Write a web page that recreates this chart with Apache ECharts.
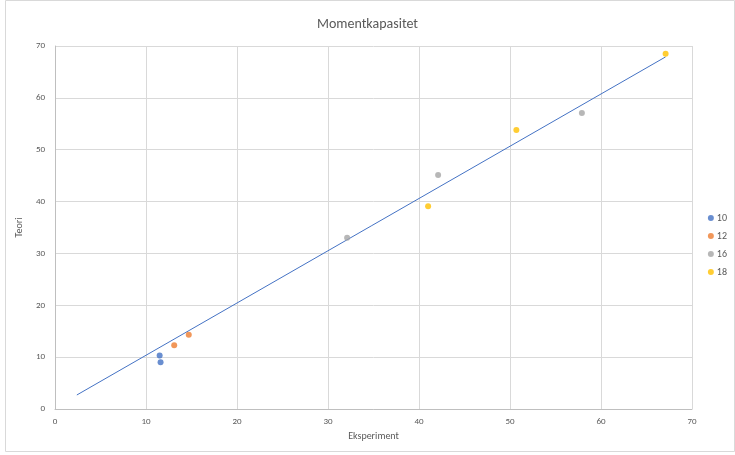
<!DOCTYPE html>
<html><head><meta charset="utf-8">
<script src="https://cdn.jsdelivr.net/npm/echarts@6/dist/echarts.min.js"></script>
<style>html,body{margin:0;padding:0;background:#fff}#c{width:735px;height:455px}</style>
</head><body><div id="c"></div>
<script>
const seriesNames = ['10', '12', '16', '18'];
const colors = ['#4472C4', '#ED7D31', '#A5A5A5', '#FFC000'];
const s10 = [[11.5, 10.3], [11.6, 9.0]];
const s12 = [[13.1, 12.3], [14.7, 14.3]];
const s16 = [[32.1, 33.0], [42.1, 45.1], [57.9, 57.1]];
const s18 = [[41.0, 39.1], [50.7, 53.8], [67.1, 68.5]];
const trend = [[2.4, 2.7], [67.1, 67.9]];
const xTicks = [0, 10, 20, 30, 40, 50, 60, 70];
const yTicks = [0, 10, 20, 30, 40, 50, 60, 70];

const all = [s10, s12, s16, s18];
const chart = echarts.init(document.getElementById('c'));
const font = 'Calibri, Carlito, "Open Sans", sans-serif';
chart.setOption({
  animation: false,
  textStyle: { fontFamily: font },
  title: { text: 'Momentkapasitet', left: 'center', top: 12,
    textStyle: { fontSize: 14, fontWeight: 'normal', color: '#595959', fontFamily: font } },
  graphic: [{ type: 'rect', shape: { x: 5.5, y: 0.5, width: 729, height: 451 },
    style: { fill: 'none', stroke: '#d9d9d9', lineWidth: 1 } }],
  legend: { orient: 'vertical', right: 3, top: 208, itemGap: 8, itemWidth: 6, itemHeight: 6,
    data: seriesNames.map(n => ({ name: n, icon: 'circle' })),
    textStyle: { fontSize: 10, color: '#595959', padding: [0, 0, 0, -2] } },
  grid: { left: 55, right: 43, top: 46, bottom: 46 },
  xAxis: { type: 'value', min: xTicks[0], max: xTicks[xTicks.length - 1], interval: 10,
    name: 'Eksperiment', nameLocation: 'middle', nameGap: 22,
    nameTextStyle: { fontSize: 10, color: '#595959' },
    axisLine: { show: true, lineStyle: { color: '#bfbfbf' } }, axisTick: { show: false },
    axisLabel: { fontSize: 9, color: '#595959', margin: 8 },
    splitLine: { lineStyle: { color: '#d9d9d9' } } },
  yAxis: { type: 'value', min: yTicks[0], max: yTicks[yTicks.length - 1], interval: 10,
    name: 'Teori', nameLocation: 'middle', nameGap: 25,
    nameTextStyle: { fontSize: 10, color: '#595959' },
    axisLine: { show: true, lineStyle: { color: '#bfbfbf' } }, axisTick: { show: false },
    axisLabel: { fontSize: 9, color: '#595959', margin: 10 },
    splitLine: { lineStyle: { color: '#d9d9d9' } } },
  series: [
    ...all.map((d, i) => ({ name: seriesNames[i], type: 'scatter', data: d, symbolSize: 6,
      itemStyle: { color: colors[i] } })),
    { name: 'trend', type: 'line', data: trend, symbol: 'none', silent: true,
      lineStyle: { color: '#4472C4', width: 1 }, z: 1 }
  ]
});
</script></body></html>
